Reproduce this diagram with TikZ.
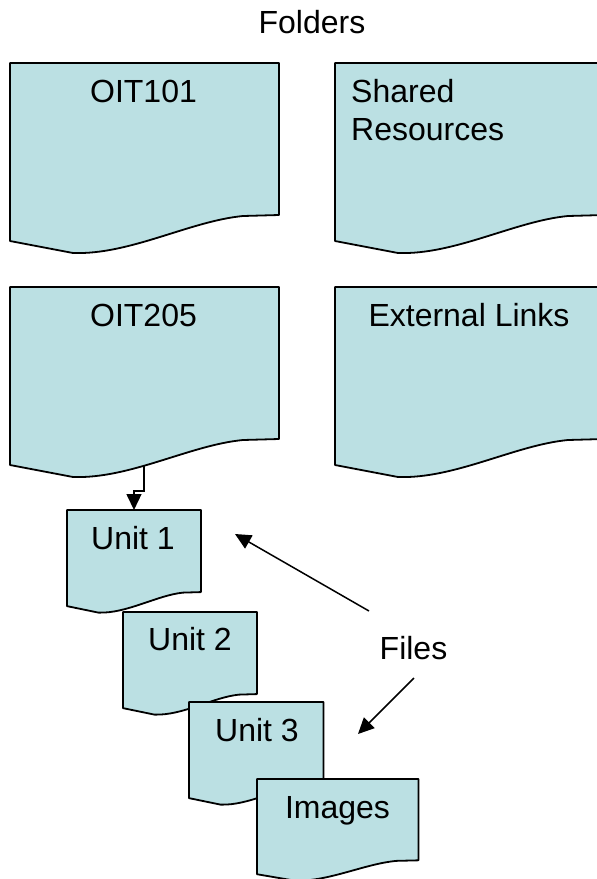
\documentclass[tikz,border=0pt]{standalone}
\usepackage{fontspec}
\setmainfont{Liberation Sans}
\usetikzlibrary{arrows.meta}

\definecolor{docfill}{HTML}{BBE0E3}

\tikzset{
  docline/.style={draw=black, line width=1.8pt, fill=docfill, line join=round},
  label/.style={font=\fontsize{32}{38}\selectfont, inner sep=0pt, anchor=base},
  conn/.style={draw=black, line width=1.5pt,
    -{Triangle[length=16pt,width=15pt]}},
}

% Flowchart "document" shape: #1 name, #2/#3 top-left corner,
% #4/#5 horizontal/vertical scale of the 269 x 190 base outline.
\newcommand\docbox[5]{%
  \begin{scope}[shift={(#2,#3)}, xscale=#4, yscale=#5]
    \path[docline] (0,0) -- (269,0) -- (269,152) -- (233,153)
      .. controls (180,158) and (120,192) .. (63,190) -- (0,178) -- cycle;
    \coordinate (#1-n) at (134.5,0);
    \coordinate (#1-s) at (134,178);
  \end{scope}}

\begin{document}
\begin{tikzpicture}[x=1pt, y=-1pt]
  \clip (0,0) rectangle (597,879);
  \fill[white] (0,0) rectangle (597,879);

  \node[label] (folders) at (312,33) {Folders};

  % folders
  \docbox{oit101}{10}{63}{1}{1}
  \docbox{shared}{335}{63}{1}{1}
  \docbox{oit205}{10}{287}{1}{1}
  \docbox{extlinks}{335}{287}{1}{1}

  \node[label] (t-oit101) at (143.5,102) {OIT101};
  \node[label, anchor=base west, align=left] (t-shared) at (351,140)
    {Shared\\Resources};
  \node[label] (t-oit205) at (143.5,326) {OIT205};
  \node[label] (t-extlinks) at (469,326) {External Links};

  % files inside OIT205
  \docbox{unit1}{67}{510}{0.498}{0.54}
  \docbox{unit2}{123}{612}{0.498}{0.54}
  \docbox{unit3}{189}{702}{0.50}{0.54}
  \docbox{images}{257}{779}{0.60}{0.535}

  \node[label] (t-unit1) at (133,549) {Unit 1};
  \node[label] (t-unit2) at (190,650) {Unit 2};
  \node[label] (t-unit3) at (257,741) {Unit 3};
  \node[label] (t-images) at (337.5,818) {Images};

  \draw[conn] (oit205-s) -- ++(0,26) -| (unit1-n);

  % "Files" callout
  \node[label] (files) at (413.5,659) {Files};
  \coordinate (files-a) at (369,611);
  \coordinate (files-b) at (414,678);
  \coordinate (unit1-tip) at (235,534);
  \coordinate (unit3-tip) at (358,734);
  \draw[conn] (files-a) -- (unit1-tip);
  \draw[conn] (files-b) -- (unit3-tip);
\end{tikzpicture}
\end{document}
